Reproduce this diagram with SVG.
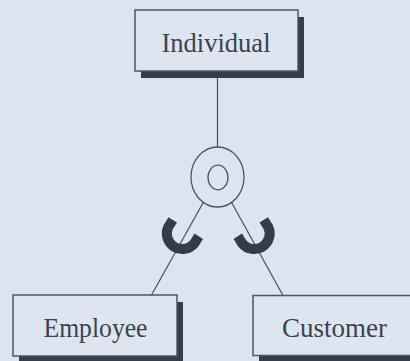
<svg xmlns="http://www.w3.org/2000/svg" width="410" height="361" viewBox="0 0 410 361">
  <style>
    .shadow { fill: #353d48; }
    .box { fill: #dde5f0; stroke: #4f565f; stroke-width: 1.5; }
    .label { font-family: "Liberation Serif", "DejaVu Serif", serif; font-size: 28px; fill: #3c424a; text-anchor: middle; }
    .link { fill: none; stroke: #4f565f; stroke-width: 1.3; }
    .hook { fill: none; stroke: #333c48; stroke-width: 10; stroke-linecap: butt; }
  </style>
  <rect width="410" height="361" fill="#dce4ef"/>

  <!-- connectors: lines radiate from the disjoint circle to each entity -->
  <g id="connectors">
    <line class="link" x1="217.5" y1="71" x2="217.5" y2="177"/>
    <line class="link" x1="217.5" y1="177" x2="151.5" y2="295"/>
    <line class="link" x1="217.5" y1="177" x2="283" y2="295.5"/>
    <!-- subset symbols on each branch -->
    <path class="hook" d="M172.75,219.85 L168.25,227.05 A15.5,15.5 0 0 0 194.25,243.45 L198.75,236.25"/>
    <path class="hook" d="M237.75,236.25 L242.25,243.45 A15.5,15.5 0 0 0 268.25,227.05 L263.75,219.85"/>
    <!-- specialization circle -->
    <ellipse cx="217.5" cy="177" rx="26.5" ry="30" fill="#dce4ef" stroke="#4f565f" stroke-width="1.3"/>
    <ellipse cx="218" cy="177.5" rx="10" ry="12.3" fill="none" stroke="#4f565f" stroke-width="1.3"/>
  </g>

  <g id="individual">
    <rect class="shadow" x="141" y="17" width="163" height="61"/>
    <rect class="box" x="135" y="10" width="163" height="61"/>
    <text class="label" x="216" y="52" textLength="109" lengthAdjust="spacingAndGlyphs">Individual</text>
  </g>

  <g id="employee">
    <rect class="shadow" x="19" y="302" width="164" height="62"/>
    <rect class="box" x="13" y="295" width="164" height="61"/>
    <text class="label" x="95.5" y="337" textLength="104" lengthAdjust="spacingAndGlyphs">Employee</text>
  </g>

  <g id="customer">
    <rect class="shadow" x="259" y="302" width="170" height="62"/>
    <rect class="box" x="253" y="295.5" width="170" height="60"/>
    <text class="label" x="334.5" y="337" textLength="105" lengthAdjust="spacingAndGlyphs">Customer</text>
  </g>
</svg>
